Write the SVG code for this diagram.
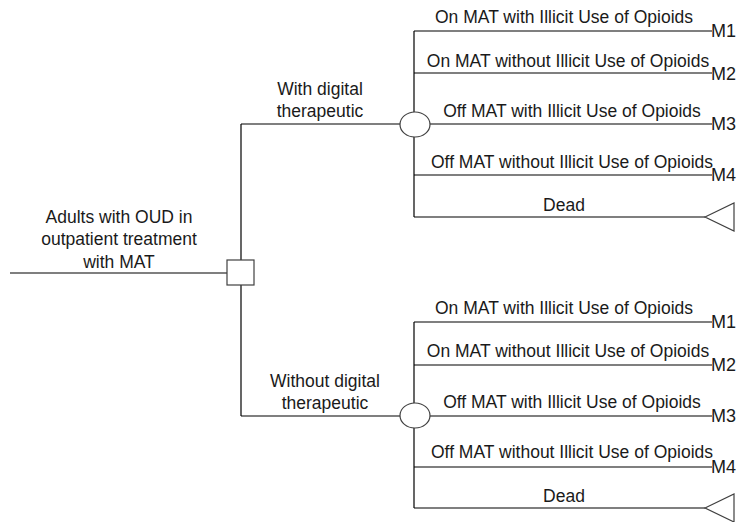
<svg xmlns="http://www.w3.org/2000/svg" width="746" height="522" viewBox="0 0 746 522">
<style>
  .ln{stroke:#000;stroke-width:1.2;fill:none}
  .sh{stroke:#404040;stroke-width:1.2;fill:#fff}
  text{font-family:"Liberation Sans",Arial,sans-serif;font-size:17.5px;fill:#1a1a1a}
  .c{text-anchor:middle}
  .m{font-size:18px}
</style>
<rect width="746" height="522" fill="#fff"/>
<g id="connectors">
  <line class="ln" x1="10" y1="273" x2="227" y2="273"/>
  <line class="ln" x1="241" y1="124" x2="241" y2="260"/>
  <line class="ln" x1="241" y1="285" x2="241" y2="416"/>
  <line class="ln" x1="241" y1="124" x2="400" y2="124"/>
  <line class="ln" x1="241" y1="416" x2="400" y2="416"/>
  <!-- top chance -->
  <line class="ln" x1="414" y1="31" x2="414" y2="112"/>
  <line class="ln" x1="414" y1="137" x2="414" y2="217"/>
  <line class="ln" x1="414" y1="31" x2="712" y2="31"/>
  <line class="ln" x1="414" y1="73" x2="712" y2="73"/>
  <line class="ln" x1="430" y1="124" x2="712" y2="124"/>
  <line class="ln" x1="414" y1="175" x2="712" y2="175"/>
  <line class="ln" x1="414" y1="217" x2="705" y2="217"/>
  <!-- bottom chance -->
  <line class="ln" x1="414" y1="322" x2="414" y2="403"/>
  <line class="ln" x1="414" y1="428" x2="414" y2="508"/>
  <line class="ln" x1="414" y1="322" x2="712" y2="322"/>
  <line class="ln" x1="414" y1="365" x2="712" y2="365"/>
  <line class="ln" x1="430" y1="416" x2="712" y2="416"/>
  <line class="ln" x1="414" y1="467" x2="712" y2="467"/>
  <line class="ln" x1="414" y1="508" x2="705" y2="508"/>
</g>
<g id="root">
  <text class="c" x="119" y="223">Adults with OUD in</text>
  <text class="c" x="119" y="245">outpatient treatment</text>
  <text class="c" x="119" y="268">with MAT</text>
</g>
<g id="decision">
  <rect class="sh" x="227" y="260" width="27" height="25"/>
</g>
<g id="branch-with">
  <text class="c" x="320" y="95">With digital</text>
  <text class="c" x="320" y="117">therapeutic</text>
</g>
<g id="branch-without">
  <text class="c" x="325" y="387">Without digital</text>
  <text class="c" x="325" y="409">therapeutic</text>
</g>
<g id="chance-top">
  <ellipse class="sh" cx="415" cy="124.5" rx="15" ry="12.5"/>
</g>
<g id="chance-bottom">
  <ellipse class="sh" cx="415" cy="415.5" rx="15" ry="12.5"/>
</g>
<g id="outcomes-top">
  <text class="c" x="564" y="23">On MAT with Illicit Use of Opioids</text>
  <text class="m" x="711" y="37">M1</text>
  <text class="c" x="568" y="67">On MAT without Illicit Use of Opioids</text>
  <text class="m" x="711" y="80">M2</text>
  <text class="c" x="572" y="117">Off MAT with Illicit Use of Opioids</text>
  <text class="m" x="711" y="130">M3</text>
  <text class="c" x="572" y="168">Off MAT without Illicit Use of Opioids</text>
  <text class="m" x="711" y="181">M4</text>
  <text class="c" x="564" y="211">Dead</text>
  <polygon class="sh" points="705,217 734,203 734,231"/>
</g>
<g id="outcomes-bottom">
  <text class="c" x="564" y="314">On MAT with Illicit Use of Opioids</text>
  <text class="m" x="711" y="328">M1</text>
  <text class="c" x="568" y="357">On MAT without Illicit Use of Opioids</text>
  <text class="m" x="711" y="371">M2</text>
  <text class="c" x="572" y="408">Off MAT with Illicit Use of Opioids</text>
  <text class="m" x="711" y="422">M3</text>
  <text class="c" x="572" y="458">Off MAT without Illicit Use of Opioids</text>
  <text class="m" x="711" y="473">M4</text>
  <text class="c" x="564" y="502">Dead</text>
  <polygon class="sh" points="705,508 734,494 734,522"/>
</g>
</svg>
